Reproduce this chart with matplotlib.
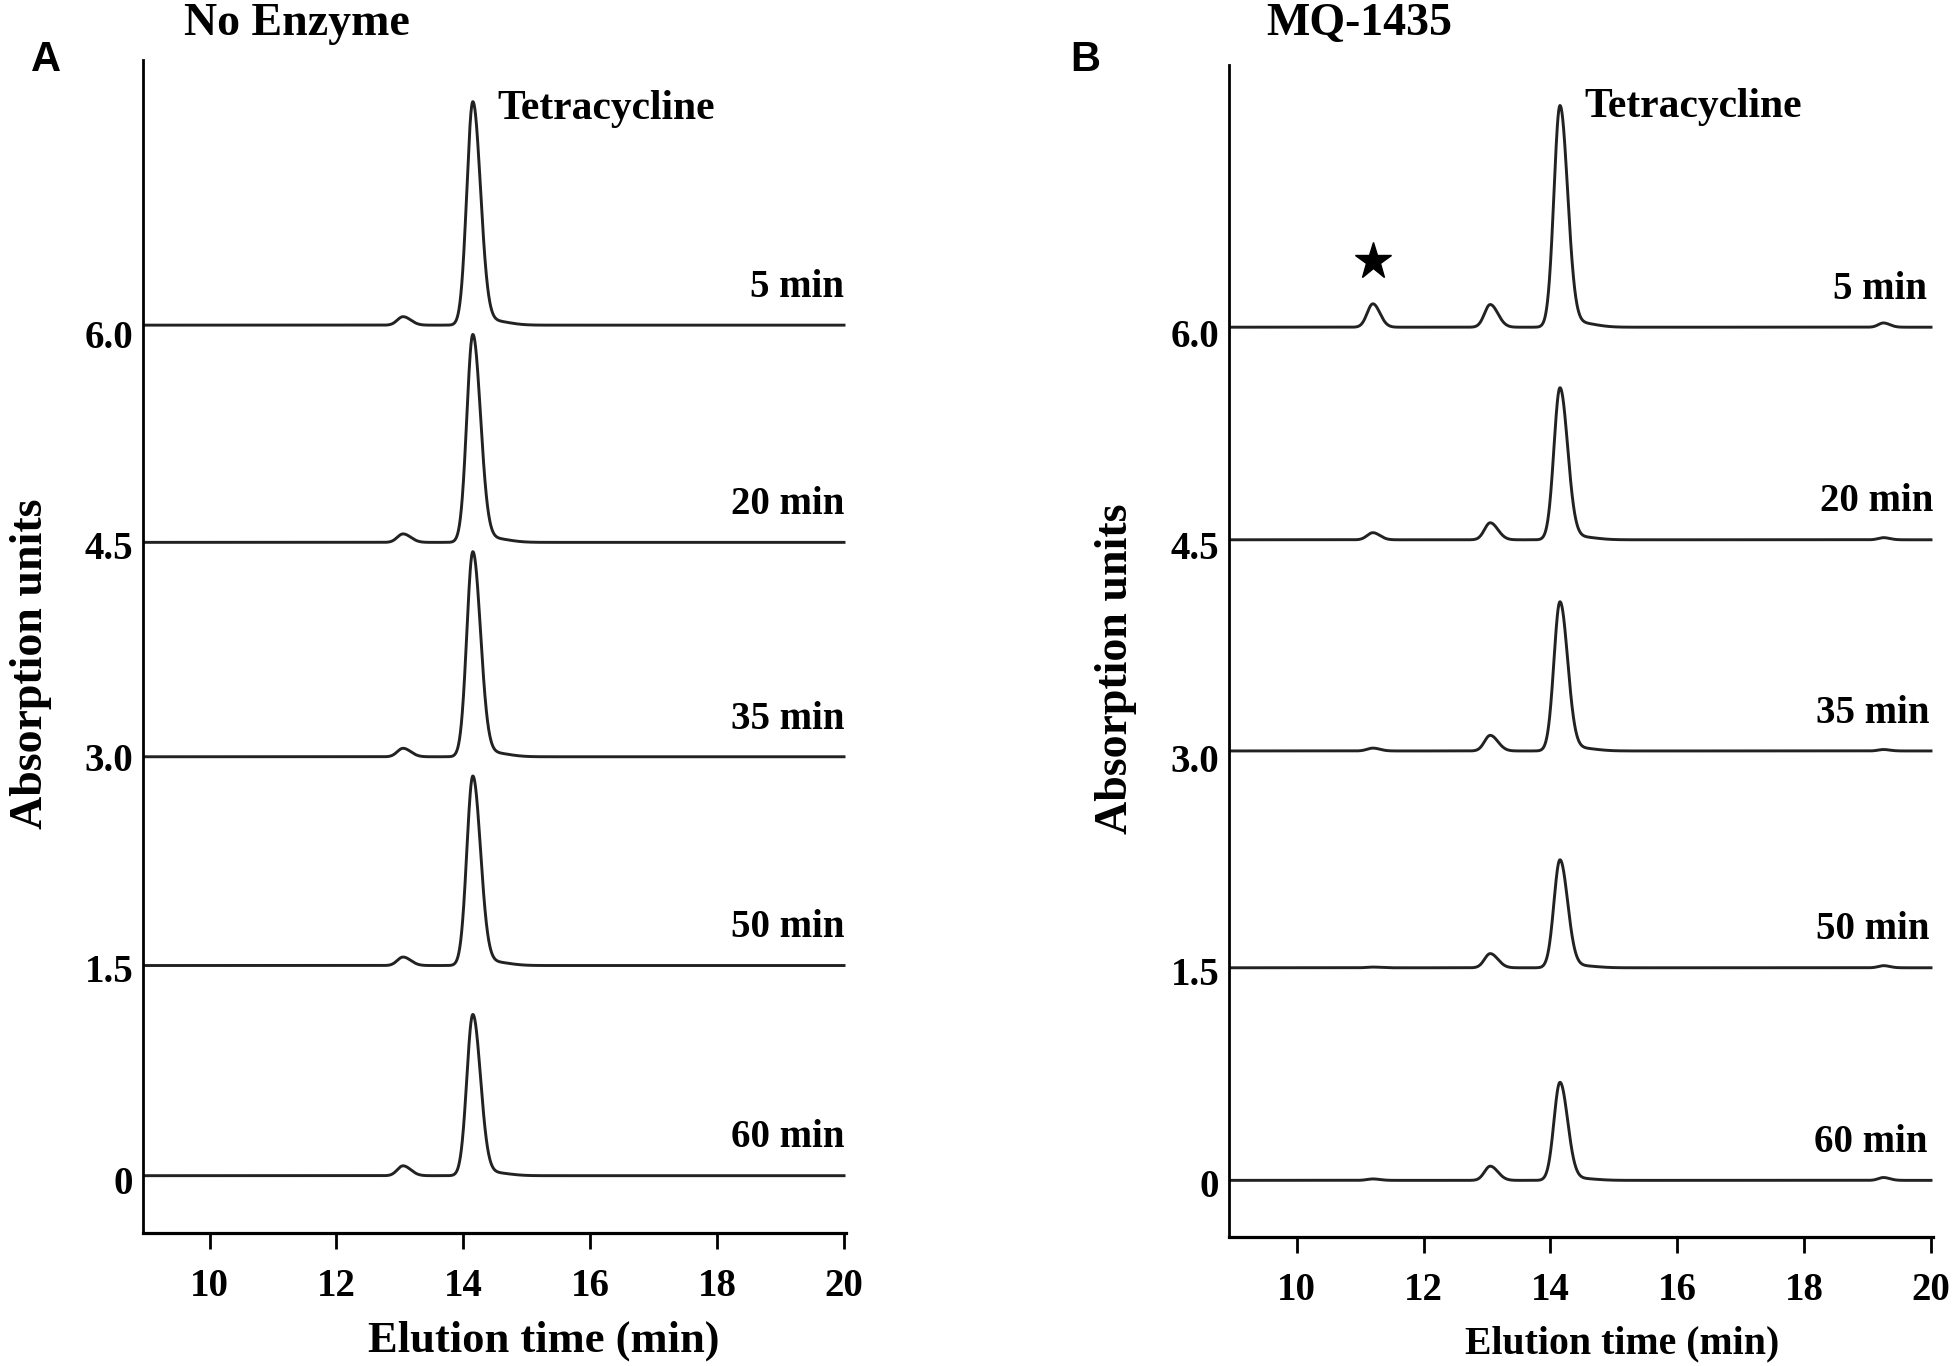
import numpy as np
import matplotlib
matplotlib.use("Agg")
import matplotlib.pyplot as plt

plt.rcParams['font.family'] = ['Liberation Serif', 'DejaVu Serif']
plt.rcParams['font.weight'] = 'bold'
plt.rcParams['axes.labelweight'] = 'bold'

# sampling times and trace labels
times = ["5 min", "20 min", "35 min", "50 min", "60 min"]

# vertical offset of each trace (absorption units)
offsets_a = [6.06, 4.52, 3.00, 1.52, 0.03]
offsets_b = [6.04, 4.54, 3.05, 1.52, 0.02]

# retention times (min)
rt_tetra = 14.15
rt_minor = 13.05
rt_product = 11.2
rt_late = 19.25

# peak heights
tetra_a = [1.58, 1.47, 1.45, 1.34, 1.14]
minor_a = [0.06, 0.06, 0.06, 0.06, 0.07]
product_a = [0.0, 0.0, 0.0, 0.0, 0.0]
late_a = [0.0, 0.0, 0.0, 0.0, 0.0]

tetra_b = [1.56, 1.07, 1.05, 0.76, 0.69]
minor_b = [0.16, 0.12, 0.11, 0.10, 0.10]
product_b = [0.165, 0.05, 0.02, 0.005, 0.01]
late_b = [0.03, 0.015, 0.01, 0.015, 0.02]

yticks = [0, 1.5, 3.0, 4.5, 6.0]
ytick_labels = ["0", "1.5", "3.0", "4.5", "6.0"]
xticks = [10, 12, 14, 16, 18, 20]


def peak(x, rt, h, sl, sr):
    s = np.where(x < rt, sl, sr)
    return h * np.exp(-0.5 * ((x - rt) / s) ** 2)


def trace(x, tetra, minor, product, late):
    y = peak(x, rt_tetra, tetra, 0.095, 0.12)
    y += peak(x, rt_tetra + 0.3, tetra * 0.02, 0.15, 0.25)  # tailing
    y += peak(x, rt_minor, minor, 0.09, 0.12)
    y += peak(x, rt_product, product, 0.09, 0.11)
    y += peak(x, rt_late, late, 0.08, 0.1)
    return y


fig = plt.figure(figsize=(19.55, 13.66), dpi=100)

panels = [
    dict(pos=[0.0731, 0.0974, 0.3596, 0.8587], xlim=(8.95, 20.03), ylim=(-0.376, 7.94),
         offsets=offsets_a, tetra=tetra_a, minor=minor_a, product=product_a, late=late_a,
         title="No Enzyme", letter="A", title_x=184, letter_x=46, xlabel_size=32,
         label_x=[20.0, 20.0, 20.0, 20.0, 20.0], xlabel_x=0.57),
    dict(pos=[0.6286, 0.0944, 0.3601, 0.8580], xlim=(8.93, 20.03), ylim=(-0.38, 7.89),
         offsets=offsets_b, tetra=tetra_b, minor=minor_b, product=product_b, late=late_b,
         title="MQ-1435", letter="B", title_x=1266, letter_x=1085, xlabel_size=28.6,
         label_x=[19.94, 20.04, 19.98, 19.98, 19.94], xlabel_x=0.558),
]

x = np.linspace(8.95, 20.0, 3000)

for p in panels:
    ax = fig.add_axes(p["pos"])
    for i, lab in enumerate(times):
        y = p["offsets"][i] + trace(x, p["tetra"][i], p["minor"][i], p["product"][i], p["late"][i])
        ax.plot(x, y, color="#222222", lw=2.1)
        ax.text(p["label_x"][i], p["offsets"][i] + 0.2, lab, ha="right", va="baseline", fontsize=28)

    ax.text(14.53, 7.52, "Tetracycline", fontsize=30, va="baseline")

    ax.set_xlim(*p["xlim"])
    ax.set_ylim(*p["ylim"])
    ax.set_xticks(xticks)
    ax.set_yticks(yticks)
    ax.set_yticklabels(ytick_labels)
    for side in ["top", "right"]:
        ax.spines[side].set_visible(False)
    ax.spines["left"].set_linewidth(2.0)
    ax.spines["bottom"].set_linewidth(2.3)
    ax.tick_params(axis="x", direction="out", length=11.5, width=2.0, pad=14, labelsize=28)
    ax.tick_params(axis="y", length=0, pad=7, labelsize=28)

    ax.set_ylabel("Absorption units", fontsize=33, fontweight="bold")
    ax.yaxis.set_label_coords(-0.13, 0.485)
    ax.set_xlabel("Elution time (min)", fontsize=p["xlabel_size"], fontweight="bold")
    ax.xaxis.set_label_coords(p["xlabel_x"], -0.075)

    fig.text(p["title_x"] / 1955, 1 - 35 / 1366, p["title"], fontsize=33, va="baseline")
    fig.text(p["letter_x"] / 1955, 1 - 60 / 1366, p["letter"], fontsize=30,
             family="Liberation Sans", ha="center", va="center")

    if p["letter"] == "B":
        # marks the new product peak
        ax.plot([rt_product], [6.51], marker="*", color="black", ms=28, mec="black")

fig.savefig("out.png", dpi=100)
